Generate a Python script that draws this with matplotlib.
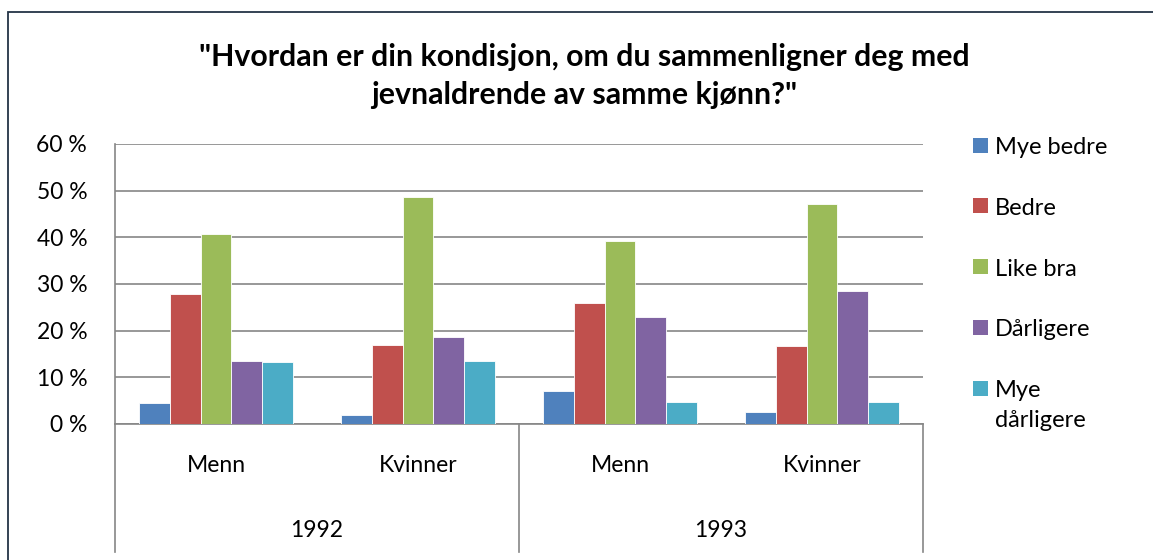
import matplotlib.pyplot as plt
import numpy as np
from matplotlib.patches import Rectangle
from matplotlib.transforms import blended_transform_factory

plt.rcParams['font.family'] = ['Lato', 'DejaVu Sans']

years = ['1992', '1993']
genders = ['Menn', 'Kvinner', 'Menn', 'Kvinner']
series = ['Mye bedre', 'Bedre', 'Like bra', 'Dårligere', 'Mye\ndårligere']
mye_bedre = [4.6, 1.9, 7.0, 2.6]
bedre = [27.9, 17.0, 26.0, 16.8]
like_bra = [40.7, 48.7, 39.2, 47.2]
darligere = [13.6, 18.7, 23.0, 28.6]
mye_darligere = [13.2, 13.6, 4.8, 4.7]
colors = ['#4F81BD', '#C0504D', '#9BBB59', '#8064A2', '#4BACC6']

W, H = 1153, 560
fig = plt.figure(figsize=(W / 100, H / 100), dpi=100)
ax = fig.add_axes([115/W, 1-424/H, (923-115)/W, 280/H])

x = np.arange(len(genders))
w = 0.153
values = [mye_bedre, bedre, like_bra, darligere, mye_darligere]
for i, (vals, name, c) in enumerate(zip(values, series, colors)):
    ax.bar(x + (i - 2) * w, vals, w, color=c, edgecolor='white', linewidth=0.6,
           label=name, zorder=3)

ax.set_xlim(-0.5, 3.5)
ax.set_ylim(0, 60)
ax.set_yticks(np.arange(0, 61, 10))
ax.set_yticklabels([f'{v} %' for v in range(0, 61, 10)])
ax.yaxis.grid(True, color='#868686', linewidth=1.2, zorder=0)
ax.tick_params(axis='y', length=0, pad=20, labelsize=16.5)
ax.set_xticks([])
for s in ['top', 'right']:
    ax.spines[s].set_visible(False)
for s in ['left', 'bottom']:
    ax.spines[s].set_color('#868686')
    ax.spines[s].set_linewidth(1.2)

# multi-level category axis
tr = blended_transform_factory(ax.transData, ax.transAxes)
for xv in [-0.5, 1.5, 3.5]:
    ax.plot([xv, xv], [0, -0.457], transform=tr, color='#868686', lw=1.2, clip_on=False)
for xv, g in zip(x, genders):
    ax.text(xv, -0.15, g, transform=tr, ha='center', va='center', fontsize=16.5)
for k, yr in enumerate(years):
    ax.text(0.5 + 2 * k, -0.382, yr, transform=tr, ha='center', va='center', fontsize=16.5)

# legend, drawn by hand to get Excel-like spacing
handles, labels = ax.get_legend_handles_labels()
for k, (h, lab) in enumerate(zip(handles, labels)):
    yc = 145 + 60.8 * k
    fig.patches.append(Rectangle((973/W, 1 - (yc + 7.5)/H), 15/W, 15/H,
                                 transform=fig.transFigure,
                                 facecolor=h.patches[0].get_facecolor(), edgecolor='none'))
    fig.text(995/W, 1 - (yc - 8)/H, lab, ha='left', va='top', fontsize=17,
             linespacing=1.5)

fig.text(584/W, 1-76/H,
         '"Hvordan er din kondisjon, om du sammenligner deg med\njevnaldrende av samme kjønn?"',
         ha='center', va='center', fontsize=21.8, fontweight='bold', linespacing=1.4)

# outer chart border (top and left visible)
fig.patches.append(Rectangle((8/W, -0.1), 1.2, 1 - 12/H + 0.1, transform=fig.transFigure,
                             fill=False, edgecolor='#243447', lw=1.3))

fig.savefig('out.png', dpi=100)
